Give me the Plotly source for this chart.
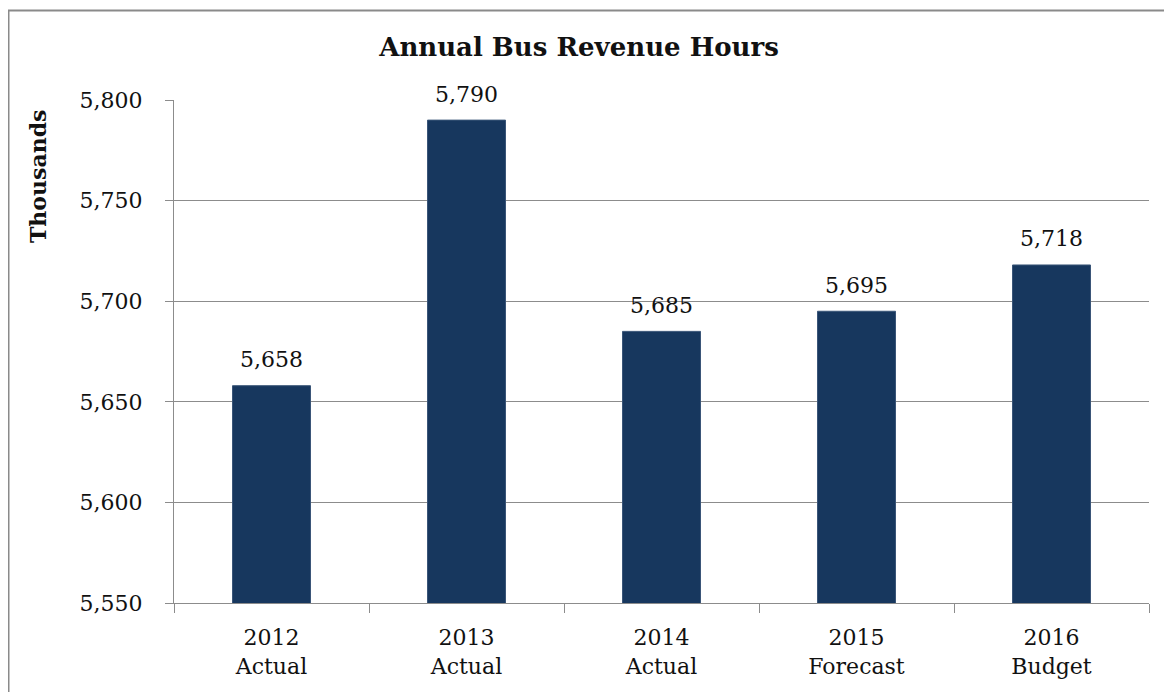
"""Annual Bus Revenue Hours - bar chart with data labels."""

import plotly.graph_objects as go

years = ["2012", "2013", "2014", "2015", "2016"]
kinds = ["Actual", "Actual", "Actual", "Forecast", "Budget"]
revenue_hours = [5658, 5790, 5685, 5695, 5718]

categories = [f"{y}<br>{k}" for y, k in zip(years, kinds)]
labels = [f"{v:,}" for v in revenue_hours]

FONT = "DejaVu Serif"
NAVY = "#17375E"
GRID = "#8c8c8c"
TXT = "#111111"

# the page body has an 8px margin, so screen pixels are offset by OFF
OFF = 8
W, H = 1172, 692
L, T = 174 - OFF, 100 - OFF
R = W - (1149 - OFF)
B = H - (603 - OFF)
plot_w = W - L - R
plot_h = H - T - B


def px_x(p):
    """screen x pixel -> paper x"""
    return (p - OFF - L) / plot_w


def px_y(p):
    """screen y pixel -> paper y"""
    return (H - B - (p - OFF)) / plot_h


fig = go.Figure()

fig.add_trace(
    go.Bar(
        x=categories,
        y=revenue_hours,
        marker=dict(color=NAVY, line=dict(color="#3a5578", width=1)),
        hoverinfo="skip",
    )
)

# data labels a little above each bar
for cat, val, lab in zip(categories, revenue_hours, labels):
    fig.add_annotation(
        x=cat,
        y=val,
        text=lab,
        showarrow=False,
        yanchor="middle",
        yshift=26,
        font=dict(family=FONT, size=22, color=TXT),
    )

fig.update_layout(
    width=W,
    height=H,
    margin=dict(l=L, r=R, t=T, b=B, autoexpand=False),
    paper_bgcolor="white",
    plot_bgcolor="white",
    bargap=0.6,
    showlegend=False,
    font=dict(family=FONT, size=22, color=TXT),
    title=dict(
        text="<b>Annual Bus Revenue Hours</b>",
        x=(579 - OFF) / W,
        xref="container",
        xanchor="center",
        y=1 - (47 - OFF) / H,
        yref="container",
        yanchor="middle",
        font=dict(family=FONT, size=26, color=TXT),
    ),
    xaxis=dict(
        showgrid=False,
        showline=True,
        linecolor=GRID,
        linewidth=1,
        ticks="outside",
        tickson="boundaries",
        ticklen=9,
        tickcolor=GRID,
        ticklabelstandoff=15,
        tickfont=dict(family=FONT, size=22, color=TXT),
    ),
    yaxis=dict(
        range=[5550, 5800],
        dtick=50,
        tickformat=",",
        showgrid=True,
        gridcolor=GRID,
        gridwidth=1,
        showline=True,
        linecolor=GRID,
        linewidth=1,
        ticks="outside",
        ticklen=8,
        tickcolor=GRID,
        ticklabelstandoff=18,
        zeroline=False,
        tickfont=dict(family=FONT, size=22, color=TXT),
    ),
)

fig.add_annotation(
    text="<b>Thousands</b>",
    xref="paper",
    yref="paper",
    x=px_x(38),
    y=px_y(177),
    xanchor="center",
    yanchor="middle",
    textangle=-90,
    showarrow=False,
    font=dict(family=FONT, size=22, color=TXT),
)

# outer chart border (runs off the right and bottom edge of the image)
fig.add_shape(
    type="rect",
    xref="paper",
    yref="paper",
    x0=px_x(8.5),
    y0=px_y(H + 30),
    x1=px_x(W + 30),
    y1=px_y(10.5),
    line=dict(color="#8a8a8a", width=2),
    fillcolor="rgba(0,0,0,0)",
    layer="above",
)

fig.write_html("out.html")
